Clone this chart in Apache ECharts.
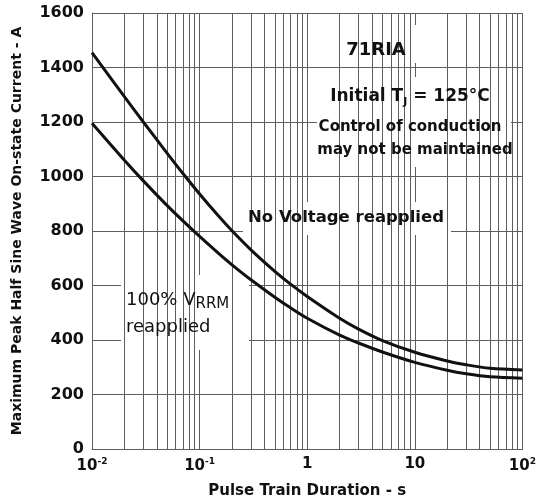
<!DOCTYPE html>
<html><head><meta charset="utf-8">
<script src="https://cdn.jsdelivr.net/npm/echarts@6/dist/echarts.min.js"></script>
<style>html,body{margin:0;padding:0;background:#fff}#c{width:539px;height:504px}</style>
</head><body><div id="c"></div>
<script>
// Pulse train duration (s) and peak current (A)
const pulseDuration = [0.01,0.02,0.03,0.05,0.07,0.1,0.15,0.2,0.3,0.5,0.7,1,2,3,5,10,20,30,50,100];
const noVoltage     = [1455,1293,1200,1085,1011,936,855,801,731,652,605,560,480,440,398,355,323,309,296,290];
const vrrmReapplied = [1195,1060,984,893,837,780,718,676,621,557,518,480,418,389,356,318,289,276,265,260];
// tick labels: [base, exponent] for decades 10^-2 .. 10^2
const xTickLabels = [['10','-2'],['10','-1'],['1',''],['10',''],['10','2']];
const yTickLabels = ['0','200','400','600','800','1000','1200','1400','1600'];
// minor log grid lines
const minorGrid = [0.02,0.03,0.04,0.05,0.06,0.07,0.08,0.09,
                   0.2,0.3,0.4,0.5,0.6,0.7,0.8,0.9,
                   2,3,4,5,6,7,8,9,
                   20,30,40,50,60,70,80,90];

const FONT = '"DejaVu Sans", sans-serif';
const GRID = '#5e5e5e';
const INK = '#111';

const chart = echarts.init(document.getElementById('c'), null, {renderer: 'canvas'});
const pairs = arr => pulseDuration.map((x, i) => [x, arr[i]]);

chart.setOption({
  animation: false,
  backgroundColor: '#fff',
  grid: {left: 92, right: 15, top: 13, bottom: 54, containLabel: false},
  xAxis: {
    type: 'log', logBase: 10, min: 0.01, max: 100,
    name: 'Pulse Train Duration - s', nameLocation: 'middle', nameGap: 35,
    nameTextStyle: {fontFamily: FONT, fontWeight: 'bold', fontSize: 15, color: INK},
    axisLine: {show: true, lineStyle: {color: GRID, width: 1}},
    axisTick: {show: false},
    splitLine: {show: true, lineStyle: {color: GRID, width: 1}},
    axisLabel: {
      margin: 8, fontFamily: FONT, fontWeight: 'bold', fontSize: 15, color: INK,
      formatter: function (v) {
        const e = Math.round(Math.log10(v));
        const t = xTickLabels[e + 2];
        if (!t) return '';
        return t[1] ? '{b|' + t[0] + '}{s|' + t[1] + '}' : t[0];
      },
      rich: {
        b: {fontFamily: FONT, fontWeight: 'bold', fontSize: 15, color: INK, lineHeight: 18},
        s: {fontFamily: FONT, fontWeight: 'bold', fontSize: 9, color: INK, lineHeight: 10, verticalAlign: 'top'}
      }
    }
  },
  yAxis: {
    type: 'value', min: 0, max: 1600, interval: 200,
    name: 'Maximum Peak Half Sine Wave On-state Current - A', nameLocation: 'middle', nameGap: 68,
    nameTextStyle: {fontFamily: FONT, fontWeight: 'bold', fontSize: 14, color: INK},
    axisLine: {show: true, lineStyle: {color: GRID, width: 1}},
    axisTick: {show: false},
    splitLine: {show: true, lineStyle: {color: GRID, width: 1}},
    axisLabel: {
      margin: 8, fontFamily: FONT, fontWeight: 'bold', fontSize: 16, color: INK,
      formatter: function (v) { return yTickLabels[Math.round(v / 200)]; }
    }
  },
  series: [
    {
      type: 'line', name: 'minor grid', data: [], silent: true, z: 1,
      markLine: {
        silent: true, symbol: 'none', label: {show: false}, animation: false,
        lineStyle: {color: GRID, width: 1, type: 'solid'},
        data: minorGrid.map(v => ({xAxis: v}))
      }
    },
    {
      type: 'line', name: 'No Voltage reapplied', data: pairs(noVoltage), smooth: 0.3,
      showSymbol: false, z: 10, lineStyle: {color: INK, width: 3}
    },
    {
      type: 'line', name: '100% VRRM reapplied', data: pairs(vrrmReapplied), smooth: 0.3,
      showSymbol: false, z: 10, lineStyle: {color: INK, width: 3}
    }
  ],
  graphic: [
    {type: 'rect', z: 5, shape: {x: 340, y: 25, width: 77, height: 38}, style: {fill: '#fff'}},
    {type: 'rect', z: 5, shape: {x: 317, y: 77, width: 194, height: 90}, style: {fill: '#fff'}},
    {type: 'rect', z: 5, shape: {x: 243, y: 202, width: 208, height: 33}, style: {fill: '#fff'}},
    {type: 'rect', z: 5, shape: {x: 121, y: 275, width: 128, height: 75}, style: {fill: '#fff'}},
    {type: 'text', z: 6, x: 376, y: 50, style: {text: '71RIA', font: 'bold 18px ' + FONT, fill: INK, align: 'center', verticalAlign: 'middle'}},
    {type: 'text', z: 6, x: 410, y: 97, style: {
      text: '{m|Initial T}{sub|J}{m| = 125°C}', align: 'center', verticalAlign: 'middle',
      rich: {
        m: {fontFamily: FONT, fontWeight: 'bold', fontSize: 17, fill: INK, color: INK, lineHeight: 22},
        sub: {fontFamily: FONT, fontWeight: 'bold', fontSize: 11, fill: INK, color: INK, lineHeight: 12, verticalAlign: 'bottom'}
      }}},
    {type: 'text', z: 6, x: 410, y: 127, style: {text: 'Control of conduction', font: 'bold 15px ' + FONT, fill: INK, align: 'center', verticalAlign: 'middle'}},
    {type: 'text', z: 6, x: 415, y: 150, style: {text: 'may not be maintained', font: 'bold 15px ' + FONT, fill: INK, align: 'center', verticalAlign: 'middle'}},
    {type: 'text', z: 6, x: 346, y: 218, style: {text: 'No Voltage reapplied', font: 'bold 16.5px ' + FONT, fill: INK, align: 'center', verticalAlign: 'middle'}},
    {type: 'text', z: 6, x: 126, y: 300, style: {
      text: '{m|100% V}{sub|RRM}', align: 'left', verticalAlign: 'middle',
      rich: {
        m: {fontFamily: FONT, fontSize: 18, fill: INK, color: INK, lineHeight: 24},
        sub: {fontFamily: FONT, fontSize: 15, fill: INK, color: INK, lineHeight: 16, verticalAlign: 'bottom'}
      }}},
    {type: 'text', z: 6, x: 126, y: 327, style: {text: 'reapplied', font: '18px ' + FONT, fill: INK, align: 'left', verticalAlign: 'middle'}}
  ]
});
</script>
</body></html>
